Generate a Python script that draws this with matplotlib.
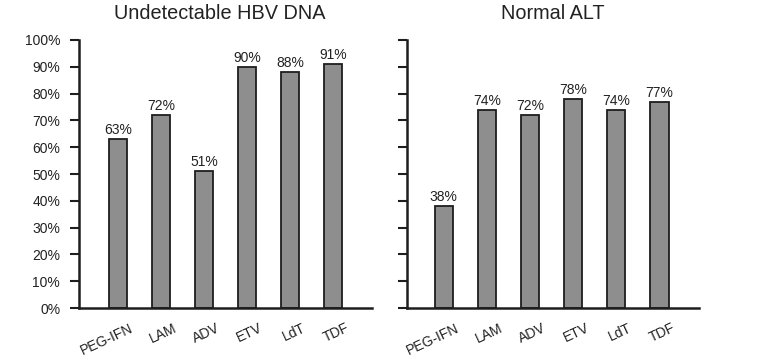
import numpy as np
import matplotlib
matplotlib.use("Agg")
import matplotlib.pyplot as plt
from matplotlib.transforms import ScaledTranslation

plt.rcParams['font.family'] = ['Liberation Sans', 'DejaVu Sans']

drugs = ['PEG-IFN', 'LAM', 'ADV', 'ETV', 'LdT', 'TDF']
hbv_dna = [63, 72, 51, 90, 88, 91]
normal_alt = [38, 74, 72, 78, 74, 77]
titles = ['Undetectable HBV DNA', 'Normal ALT']
yticks = list(range(0, 101, 10))

fig = plt.figure(figsize=(7.63, 3.57), dpi=100)
ax1 = fig.add_axes([0.1035, 0.137, 0.384, 0.751])
ax2 = fig.add_axes([0.5334, 0.137, 0.383, 0.751])

x = np.arange(1, len(drugs) + 1)

for ax, vals, title in zip([ax1, ax2], [hbv_dna, normal_alt], titles):
    ax.bar(x, vals, width=0.42, color='#8e8e8e', edgecolor='#1e1e1e', linewidth=1.3)
    for xi, v in zip(x, vals):
        ax.text(xi, v + 0.7, f'{v}%', ha='center', va='bottom', fontsize=10, color='#222222')
    # rotated category labels, right end a bit to the right of the bar
    lab_tr = ax.get_xaxis_transform() + ScaledTranslation(0.15, -0.19, fig.dpi_scale_trans)
    for xi, name in zip(x, drugs):
        ax.text(xi, 0, name, transform=lab_tr, rotation=25, rotation_mode='anchor',
                ha='right', va='center', fontsize=10, color='#222222')
    ax.set_ylim(0, 100)
    ax.set_xlim(0.1, 6.9)
    ax.set_yticks(yticks)
    ax.set_xticks(x)
    ax.set_xticklabels([])
    ax.tick_params(axis='x', length=0)
    ax.tick_params(axis='y', direction='out', length=6.5, width=1.5, pad=7,
                   labelsize=10, labelcolor='#222222', color='#1e1e1e')
    for s in ['top', 'right']:
        ax.spines[s].set_visible(False)
    for s in ['left', 'bottom']:
        ax.spines[s].set_linewidth(1.8)
        ax.spines[s].set_color('#1e1e1e')

ax1.set_title(titles[0], fontsize=14.3, pad=15, color='#222222', x=0.48)
ax2.set_title(titles[1], fontsize=14.3, pad=15, color='#222222')
ax1.set_yticklabels([f'{t}%' for t in yticks])
ax2.set_yticklabels([])
ax2.set_xlim(0.15, 6.92)

fig.savefig('out.png', dpi=100)
